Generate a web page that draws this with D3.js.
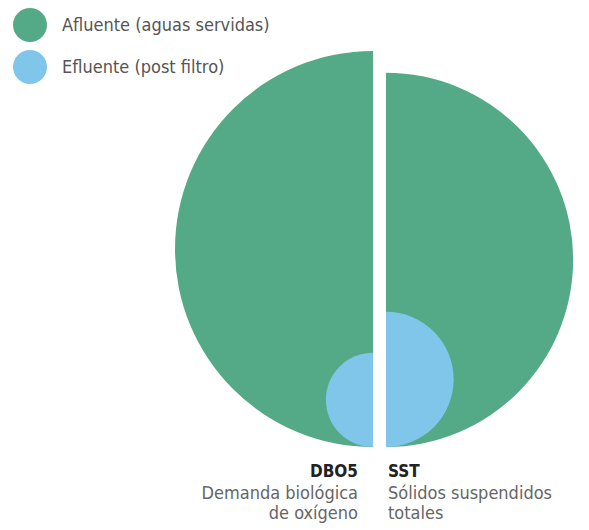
<!DOCTYPE html>
<html>
<head>
<meta charset="utf-8">
<script src="https://cdn.jsdelivr.net/npm/d3@7"></script>
<style>
  body { margin: 0; background: #fff; }
  svg { display: block; }
  text { font-family: "DejaVu Sans Condensed", "Liberation Sans Narrow", "Open Sans", sans-serif; }
</style>
</head>
<body>
<svg width="589" height="530"></svg>
<script>
// values (relative sizes, mg/L estimated)
var categories = ['DBO5', 'SST'];
var descriptions = [['Demanda biológica', 'de oxígeno'], ['Sólidos suspendidos', 'totales']];
var afluente = [300, 268];
var efluente = [17, 35];
var seriesNames = ['Afluente (aguas servidas)', 'Efluente (post filtro)'];
var colors = ['#54aa86', '#80c6ea'];

var svg = d3.select('svg');
var baseY = 447;

var r = d3.scaleSqrt().domain([0, 300]).range([0, 198]);
var x = d3.scaleOrdinal().domain(categories).range([373, 386]);

var arc = d3.arc().innerRadius(0);
// left half for the first category, right half for the second
var angles = [[Math.PI, 2 * Math.PI], [0, Math.PI]];

var halves = svg.selectAll('g.half')
  .data(categories)
  .enter()
  .append('g')
  .attr('class', 'half');

halves.each(function(c, i) {
  var g = d3.select(this);
  [afluente[i], efluente[i]].forEach(function(v, s) {
    var rad = r(v);
    g.append('path')
      .attr('transform', 'translate(' + x(c) + ',' + (baseY - rad) + ')')
      .attr('d', arc.outerRadius(rad).startAngle(angles[i][0]).endAngle(angles[i][1])())
      .attr('fill', colors[s]);
  });

  var left = i === 0;
  var tx = left ? x(c) - 15 : x(c) + 2;
  g.append('text')
    .attr('x', tx).attr('y', 477)
    .attr('text-anchor', left ? 'end' : 'start')
    .attr('font-size', 17).attr('font-weight', 'bold')
    .attr('fill', '#222')
    .text(c);
  descriptions[i].forEach(function(line, k) {
    g.append('text')
      .attr('x', tx).attr('y', 499 + k * 20)
      .attr('text-anchor', left ? 'end' : 'start')
      .attr('font-size', 18)
      .attr('fill', '#666')
      .text(line);
  });
});

// legend
var legend = svg.selectAll('g.legend')
  .data(seriesNames)
  .enter()
  .append('g')
  .attr('class', 'legend')
  .attr('transform', function(d, i) { return 'translate(30,' + (25 + i * 42) + ')'; });

legend.append('circle')
  .attr('r', 17)
  .attr('fill', function(d, i) { return colors[i]; });

legend.append('text')
  .attr('x', 32).attr('y', 6)
  .attr('font-size', 18)
  .attr('fill', '#555')
  .text(function(d) { return d; });
</script>
</body>
</html>
